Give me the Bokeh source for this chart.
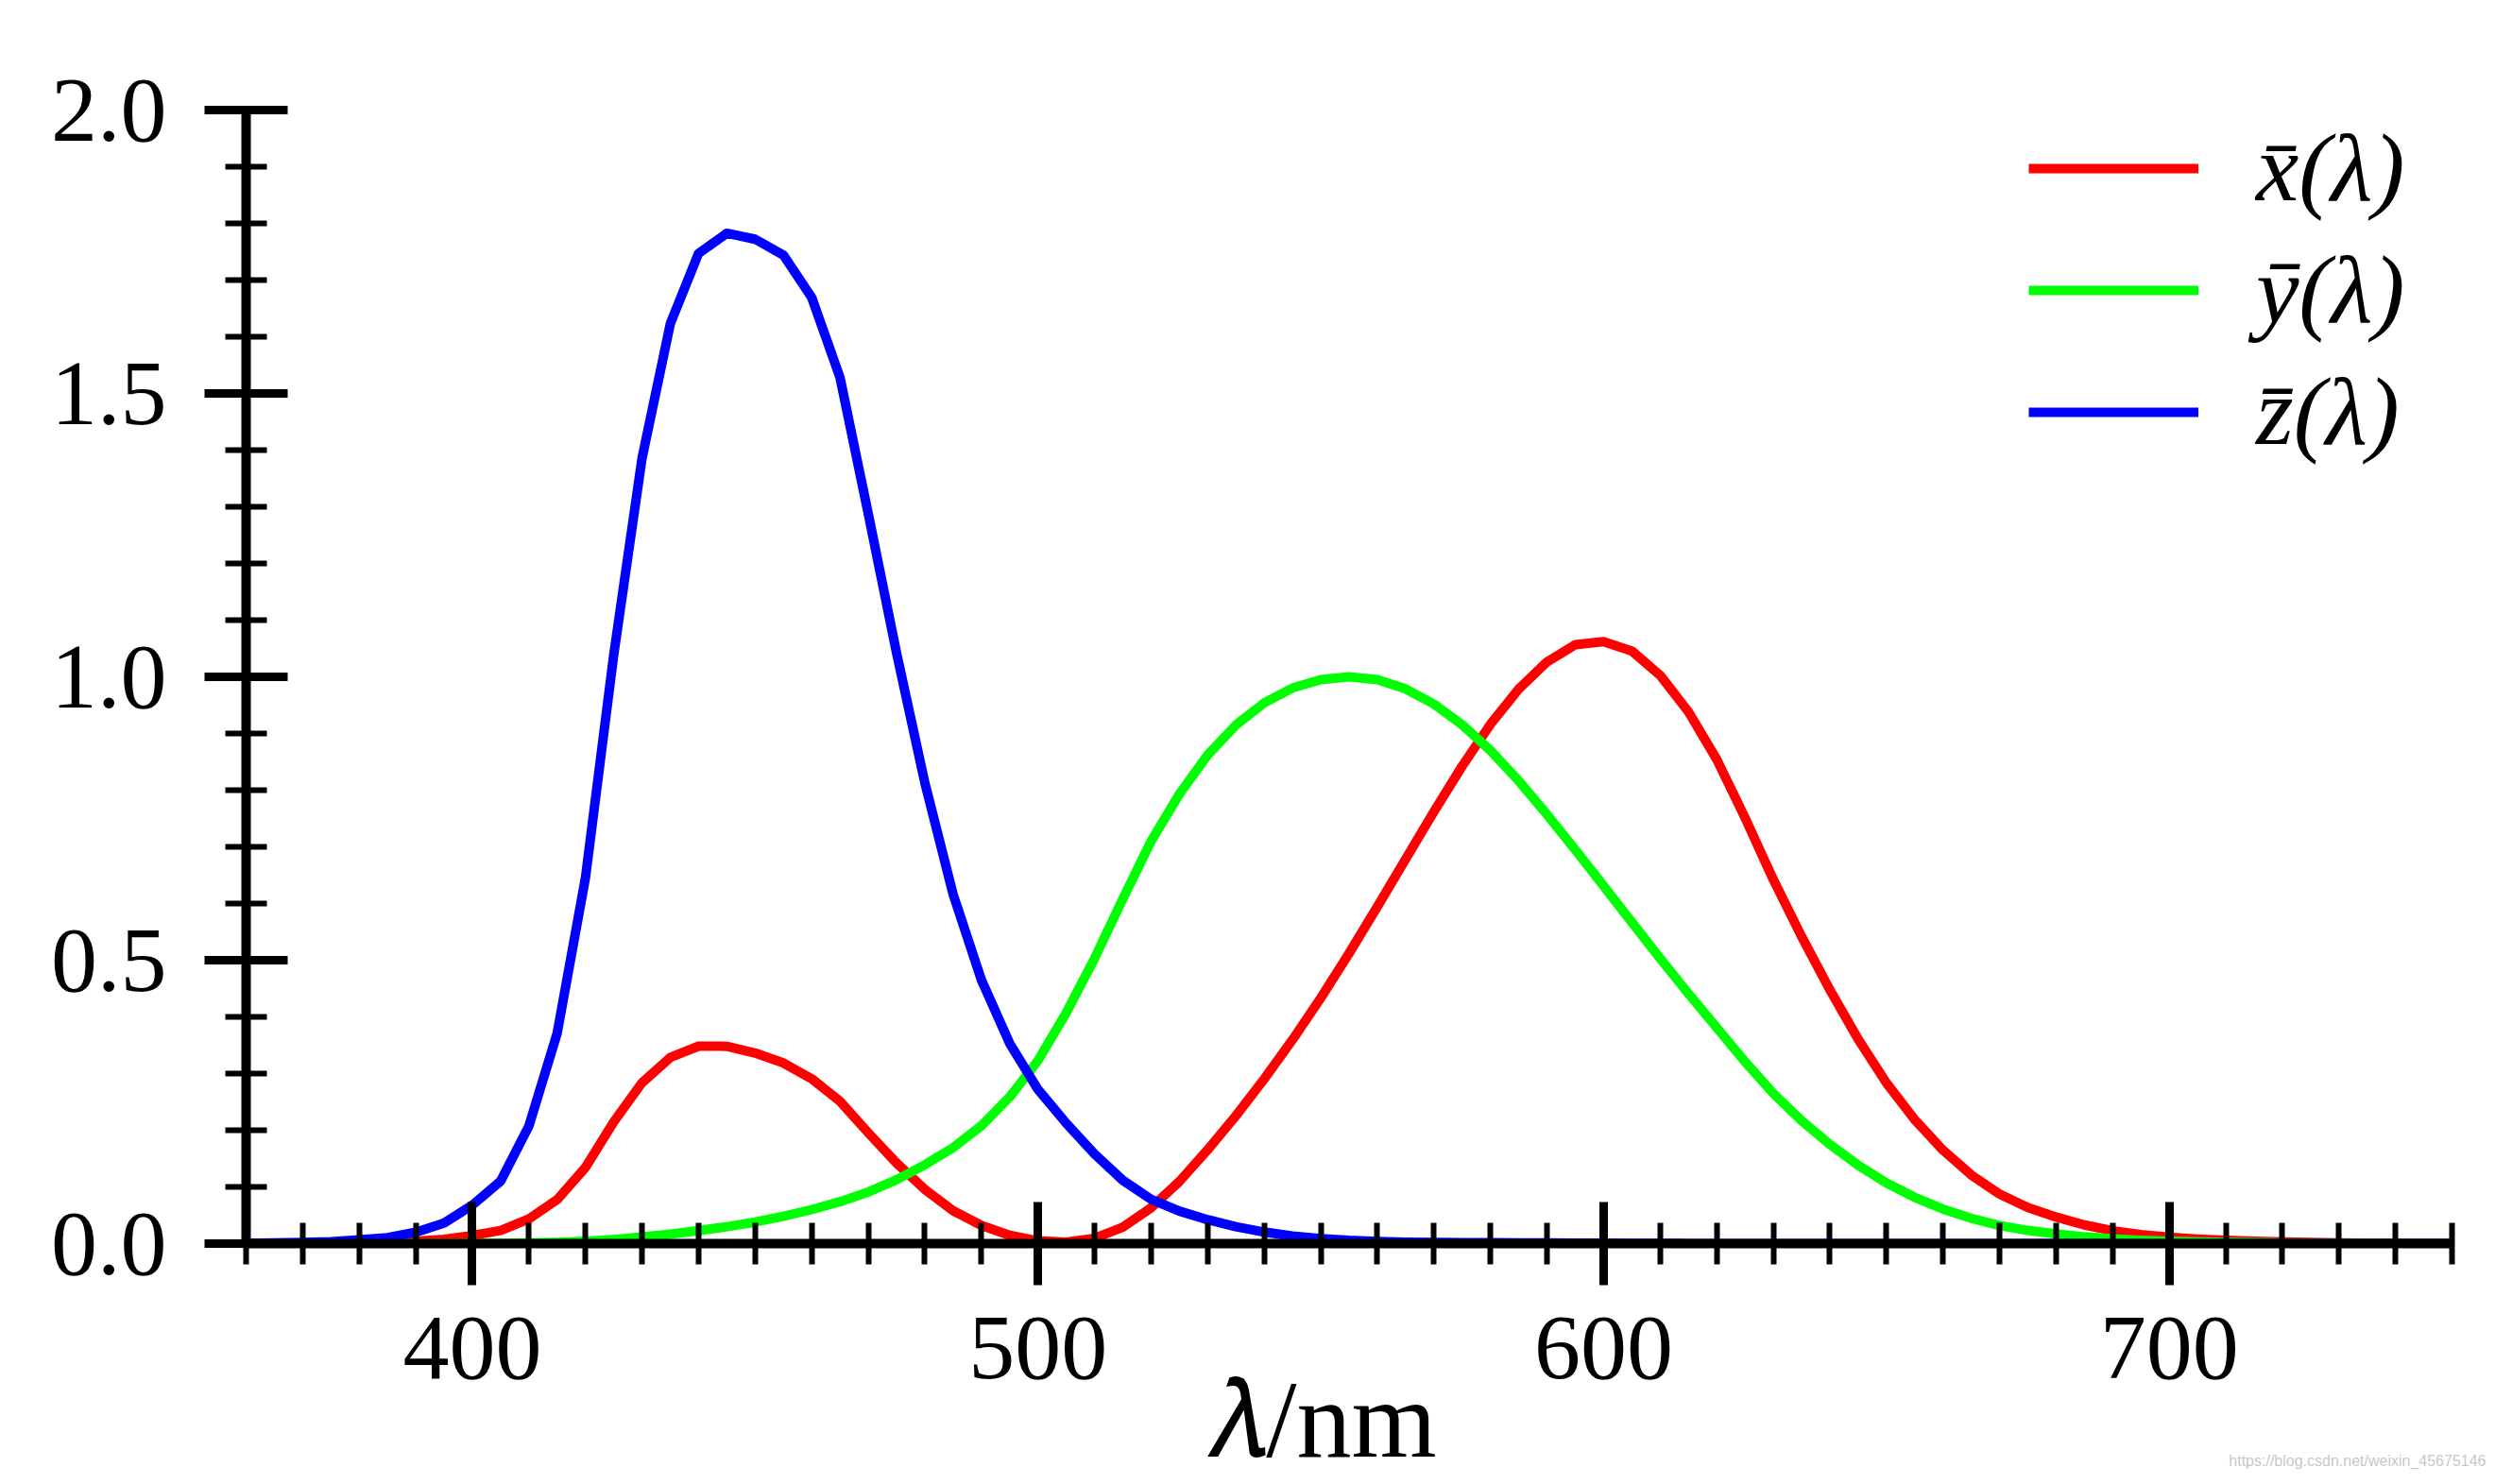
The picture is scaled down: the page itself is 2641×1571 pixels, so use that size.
from bokeh.plotting import figure
from bokeh.models import FixedTicker, PrintfTickFormatter, Legend, LegendItem, Range1d, Title
from bokeh.embed import file_html
from bokeh.resources import INLINE

# CIE 1931 colour matching functions (5 nm steps)
wavelength = [360, 365, 370, 375, 380, 385, 390, 395, 400, 405, 410, 415, 420, 425, 430, 435,
              440, 445, 450, 455, 460, 465, 470, 475, 480, 485, 490, 495, 500, 505, 510, 515,
              520, 525, 530, 535, 540, 545, 550, 555, 560, 565, 570, 575, 580, 585, 590, 595,
              600, 605, 610, 615, 620, 625, 630, 635, 640, 645, 650, 655, 660, 665, 670, 675,
              680, 685, 690, 695, 700, 705, 710, 715, 720, 725, 730, 735, 740, 745, 750]

x_bar = [0.0001, 0.0002, 0.0004, 0.0007, 0.0014, 0.0022, 0.0042, 0.0077, 0.0143, 0.0232, 0.0435,
         0.0776, 0.1344, 0.2148, 0.2839, 0.3285, 0.3483, 0.3481, 0.3362, 0.3187, 0.2908, 0.2511,
         0.1954, 0.1421, 0.0956, 0.0580, 0.0320, 0.0147, 0.0049, 0.0024, 0.0093, 0.0291, 0.0633,
         0.1096, 0.1655, 0.2257, 0.2904, 0.3597, 0.4334, 0.5121, 0.5945, 0.6784, 0.7621, 0.8425,
         0.9163, 0.9786, 1.0263, 1.0567, 1.0622, 1.0456, 1.0026, 0.9384, 0.8544, 0.7514, 0.6424,
         0.5419, 0.4479, 0.3608, 0.2835, 0.2187, 0.1649, 0.1212, 0.0874, 0.0636, 0.0468, 0.0329,
         0.0227, 0.0158, 0.0114, 0.0081, 0.0058, 0.0041, 0.0029, 0.0020, 0.0014, 0.0010, 0.0007,
         0.0005, 0.0003]

y_bar = [0.0000, 0.0000, 0.0000, 0.0000, 0.0000, 0.0001, 0.0001, 0.0002, 0.0004, 0.0006, 0.0012,
         0.0022, 0.0040, 0.0073, 0.0116, 0.0168, 0.0230, 0.0298, 0.0380, 0.0480, 0.0600, 0.0739,
         0.0910, 0.1126, 0.1390, 0.1693, 0.2080, 0.2586, 0.3230, 0.4073, 0.5030, 0.6082, 0.7100,
         0.7932, 0.8620, 0.9149, 0.9540, 0.9803, 0.9950, 1.0000, 0.9950, 0.9786, 0.9520, 0.9154,
         0.8700, 0.8163, 0.7570, 0.6949, 0.6310, 0.5668, 0.5030, 0.4412, 0.3810, 0.3210, 0.2650,
         0.2170, 0.1750, 0.1382, 0.1070, 0.0816, 0.0610, 0.0446, 0.0320, 0.0232, 0.0170, 0.0119,
         0.0082, 0.0057, 0.0041, 0.0029, 0.0021, 0.0015, 0.0010, 0.0007, 0.0005, 0.0004, 0.0002,
         0.0002, 0.0001]

z_bar = [0.0006, 0.0011, 0.0019, 0.0035, 0.0065, 0.0105, 0.0201, 0.0362, 0.0679, 0.1102, 0.2074,
         0.3713, 0.6456, 1.0391, 1.3856, 1.6230, 1.7471, 1.7826, 1.7721, 1.7441, 1.6692, 1.5281,
         1.2876, 1.0419, 0.8130, 0.6162, 0.4652, 0.3533, 0.2720, 0.2123, 0.1582, 0.1117, 0.0782,
         0.0573, 0.0422, 0.0298, 0.0203, 0.0134, 0.0087, 0.0057, 0.0039, 0.0027, 0.0021, 0.0018,
         0.0017, 0.0014, 0.0011, 0.0010, 0.0008, 0.0006, 0.0003, 0.0002, 0.0002, 0.0001, 0.0000,
         0.0000, 0.0000, 0.0000, 0.0000, 0.0000, 0.0000, 0.0000, 0.0000, 0.0000, 0.0000, 0.0000,
         0.0000, 0.0000, 0.0000, 0.0000, 0.0000, 0.0000, 0.0000, 0.0000, 0.0000, 0.0000, 0.0000,
         0.0000, 0.0000]

series_labels = ["x\u0304(\u03bb)", "y\u0304(\u03bb)", "z\u0304(\u03bb)"]
series_colors = ["#ff0000", "#00ff00", "#0000ff"]
x_axis_title = "\U0001D706/nm\u2002"
watermark = "https://blog.csdn.net/weixin_45675146"

x_major = [400, 500, 600, 700]
x_minor = list(range(360, 751, 10))
y_major = [0.0, 0.5, 1.0, 1.5, 2.0]
y_minor = [i / 10 for i in range(0, 21)]

SERIF = "Liberation Serif, DejaVu Serif, serif"

p = figure(width=2636, height=1570, output_backend="svg", toolbar_location=None,
           x_range=Range1d(360, 750), y_range=Range1d(0, 2.0),
           min_border_left=260, min_border_right=41, min_border_top=116, min_border_bottom=254)
p.outline_line_color = None
p.xgrid.visible = False
p.ygrid.visible = False
p.background_fill_color = "white"
p.border_fill_color = "white"

renderers = []
for ys, col in zip([x_bar, y_bar, z_bar], series_colors):
    r = p.line(wavelength, ys, line_color=col, line_width=10, line_join="round")
    renderers.append(r)

for ax in (p.xaxis[0], p.yaxis[0]):
    ax.axis_line_width = 10
    ax.axis_line_color = "black"
    ax.major_tick_line_width = 9
    ax.minor_tick_line_width = 6
    ax.major_tick_line_color = "black"
    ax.minor_tick_line_color = "black"
    ax.major_tick_in = 44
    ax.major_tick_out = 44
    ax.minor_tick_in = 22
    ax.minor_tick_out = 22
    ax.major_label_text_font = SERIF
    ax.major_label_text_font_size = "98px"
    ax.major_label_text_color = "black"

p.xaxis[0].ticker = FixedTicker(ticks=x_major, minor_ticks=x_minor)
p.yaxis[0].ticker = FixedTicker(ticks=y_major, minor_ticks=y_minor)
p.yaxis[0].formatter = PrintfTickFormatter(format="%.1f")
p.xaxis[0].major_label_standoff = 34
p.yaxis[0].major_label_standoff = 40

p.xaxis[0].axis_label = x_axis_title
p.xaxis[0].axis_label_text_font = SERIF
p.xaxis[0].axis_label_text_font_size = "116px"
p.xaxis[0].axis_label_text_font_style = "normal"
p.xaxis[0].axis_label_text_color = "black"
p.xaxis[0].axis_label_standoff = -23

legend = Legend(items=[LegendItem(label=lab, renderers=[r]) for lab, r in zip(series_labels, renderers)],
                location=(1887, 822), padding=0, margin=0, spacing=12,
                glyph_width=180, glyph_height=100, label_height=100, label_standoff=61,
                label_text_font=SERIF, label_text_font_size="102px", label_text_font_style="italic",
                label_text_color="black",
                border_line_color=None, background_fill_alpha=0)
p.add_layout(legend)

wm = Title(text=watermark, align="right", offset=-36, vertical_align="top", standoff=-64,
           text_font="Liberation Sans", text_font_size="16px", text_font_style="normal",
           text_color="#c8c8c8")
p.add_layout(wm, "below")

open("out.html", "w").write(file_html(p, INLINE))
